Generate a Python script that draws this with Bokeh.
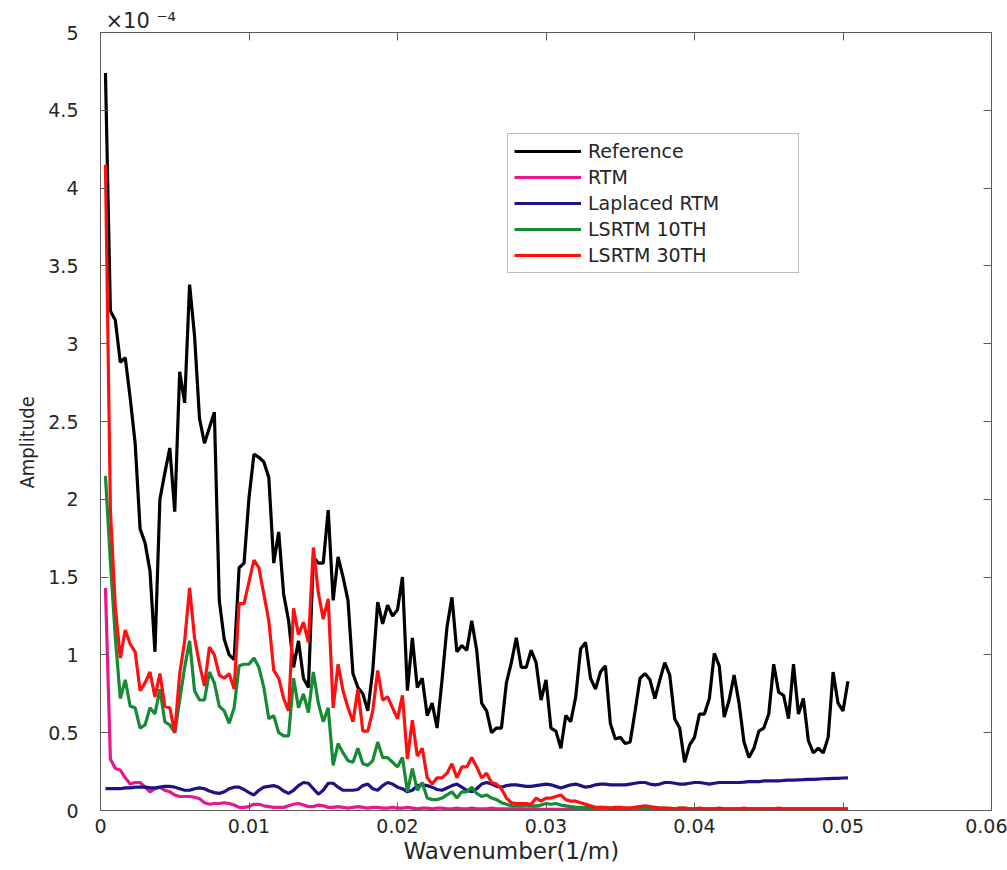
from bokeh.plotting import figure
from bokeh.models import FixedTicker, LinearAxis, Range1d, Title
from bokeh.embed import file_html
from bokeh.resources import INLINE

# ---- data (amplitudes in units of 1e-4) ----
STEP = 1.0 / 3000.0
wavenumber = [k * STEP for k in range(1, 152)]

reference = [
    4.74, 3.21, 3.15, 2.88, 2.91, 2.65, 2.36, 1.81, 1.72, 1.54,
    1.02, 2.00, 2.17, 2.33, 1.92, 2.82, 2.62, 3.38, 3.05, 2.52,
    2.36, 2.46, 2.56, 1.35, 1.10, 1.00, 0.97, 1.56, 1.59, 2.01,
    2.29, 2.27, 2.24, 2.14, 1.59, 1.79, 1.39, 1.22, 0.92, 1.09,
    0.85, 0.79, 1.63, 1.59, 1.59, 1.93, 1.35, 1.63, 1.50, 1.35,
    0.88, 0.79, 0.75, 0.64, 0.90, 1.34, 1.20, 1.32, 1.25, 1.29,
    1.50, 0.77, 1.11, 0.79, 0.85, 0.61, 0.69, 0.53, 0.84, 1.18,
    1.37, 1.02, 1.06, 1.03, 1.22, 1.03, 0.69, 0.64, 0.50, 0.53,
    0.53, 0.82, 0.95, 1.11, 0.92, 0.92, 1.03, 0.95, 0.71, 0.84,
    0.53, 0.51, 0.40, 0.61, 0.57, 0.73, 1.04, 1.08, 0.85, 0.78,
    0.89, 0.93, 0.56, 0.46, 0.47, 0.43, 0.44, 0.64, 0.85, 0.88,
    0.84, 0.72, 0.84, 0.95, 0.87, 0.59, 0.53, 0.31, 0.42, 0.47,
    0.62, 0.62, 0.72, 1.01, 0.93, 0.60, 0.71, 0.87, 0.69, 0.44,
    0.34, 0.40, 0.51, 0.53, 0.62, 0.94, 0.76, 0.74, 0.59, 0.94,
    0.62, 0.72, 0.45, 0.37, 0.40, 0.37, 0.47, 0.89, 0.69, 0.64,
    0.83,
]

rtm = [
    1.43, 0.33, 0.27, 0.26, 0.21, 0.17, 0.18, 0.18, 0.15, 0.12,
    0.14, 0.15, 0.13, 0.12, 0.10, 0.09, 0.09, 0.09, 0.085, 0.075,
    0.05, 0.04, 0.045, 0.045, 0.05, 0.045, 0.035, 0.02, 0.02, 0.025,
    0.04, 0.04, 0.03, 0.025, 0.02, 0.02, 0.02, 0.03, 0.04, 0.045,
    0.035, 0.025, 0.025, 0.035, 0.03, 0.02, 0.02, 0.025, 0.02, 0.015,
    0.02, 0.025, 0.02, 0.015, 0.02, 0.02, 0.015, 0.015, 0.02, 0.015,
    0.015, 0.02, 0.015, 0.01, 0.015, 0.015, 0.01, 0.015, 0.015, 0.01,
    0.01, 0.015, 0.01, 0.01, 0.015, 0.01, 0.01, 0.01, 0.015, 0.01,
    0.01, 0.01, 0.01, 0.01, 0.01, 0.01, 0.01, 0.01, 0.008, 0.008,
    0.008, 0.008, 0.008, 0.008, 0.008, 0.008, 0.008, 0.008, 0.008, 0.008,
    0.007, 0.007, 0.007, 0.007, 0.007, 0.007, 0.007, 0.007, 0.007, 0.007,
    0.006, 0.006, 0.006, 0.006, 0.006, 0.006, 0.006, 0.006, 0.006, 0.006,
    0.006, 0.006, 0.006, 0.006, 0.006, 0.006, 0.006, 0.006, 0.006, 0.006,
    0.005, 0.005, 0.005, 0.005, 0.005, 0.005, 0.005, 0.005, 0.005, 0.005,
    0.005, 0.005, 0.005, 0.005, 0.005, 0.005, 0.005, 0.005, 0.005, 0.005,
    0.005,
]

laplaced_rtm = [
    0.14, 0.14, 0.14, 0.14, 0.145, 0.145, 0.15, 0.15, 0.15, 0.145,
    0.145, 0.15, 0.155, 0.155, 0.15, 0.14, 0.13, 0.13, 0.14, 0.145,
    0.14, 0.125, 0.115, 0.11, 0.12, 0.14, 0.15, 0.15, 0.135, 0.115,
    0.10, 0.13, 0.15, 0.155, 0.16, 0.15, 0.125, 0.11, 0.13, 0.16,
    0.18, 0.175, 0.14, 0.105, 0.13, 0.175, 0.175, 0.15, 0.13, 0.13,
    0.13, 0.135, 0.16, 0.17, 0.14, 0.13, 0.16, 0.18, 0.17, 0.15,
    0.14, 0.12, 0.13, 0.16, 0.165, 0.16, 0.15, 0.135, 0.13, 0.145,
    0.16, 0.17, 0.15, 0.13, 0.12, 0.14, 0.17, 0.18, 0.17, 0.155,
    0.15, 0.16, 0.165, 0.165, 0.16, 0.155, 0.155, 0.16, 0.165, 0.17,
    0.165, 0.155, 0.145, 0.155, 0.165, 0.17, 0.16, 0.15, 0.155, 0.165,
    0.17, 0.17, 0.165, 0.165, 0.165, 0.165, 0.17, 0.175, 0.18, 0.18,
    0.17, 0.165, 0.17, 0.18, 0.18, 0.175, 0.17, 0.17, 0.175, 0.18,
    0.18, 0.175, 0.17, 0.175, 0.18, 0.18, 0.18, 0.18, 0.18, 0.182,
    0.185, 0.185, 0.185, 0.19, 0.19, 0.19, 0.19, 0.193, 0.195, 0.195,
    0.197, 0.198, 0.20, 0.20, 0.202, 0.204, 0.205, 0.206, 0.207, 0.209,
    0.21,
]

lsrtm_10 = [
    2.15, 1.60, 1.11, 0.72, 0.84, 0.67, 0.66, 0.53, 0.55, 0.66,
    0.62, 0.78, 0.57, 0.55, 0.50, 0.71, 0.92, 1.09, 0.77, 0.71,
    0.71, 0.89, 0.82, 0.67, 0.64, 0.56, 0.66, 0.93, 0.94, 0.94,
    0.98, 0.92, 0.79, 0.59, 0.61, 0.50, 0.48, 0.48, 0.85, 0.66,
    0.75, 0.63, 0.89, 0.69, 0.57, 0.66, 0.29, 0.43, 0.37, 0.32,
    0.31, 0.40, 0.30, 0.29, 0.32, 0.44, 0.34, 0.34, 0.31, 0.28,
    0.34, 0.12, 0.27, 0.13, 0.18, 0.08, 0.07, 0.07, 0.08, 0.10,
    0.12, 0.08, 0.12, 0.12, 0.15, 0.11, 0.09, 0.10, 0.08, 0.07,
    0.05, 0.04, 0.03, 0.03, 0.03, 0.035, 0.03, 0.03, 0.035, 0.045,
    0.04, 0.045, 0.035, 0.03, 0.025, 0.02, 0.02, 0.02, 0.015, 0.015,
    0.02, 0.015, 0.015, 0.015, 0.015, 0.015, 0.015, 0.02, 0.02, 0.02,
    0.015, 0.015, 0.015, 0.015, 0.01, 0.01, 0.015, 0.015, 0.01, 0.01,
    0.01, 0.01, 0.01, 0.01, 0.01, 0.01, 0.01, 0.01, 0.01, 0.01,
    0.01, 0.01, 0.01, 0.01, 0.01, 0.01, 0.01, 0.01, 0.01, 0.01,
    0.01, 0.01, 0.01, 0.01, 0.01, 0.01, 0.01, 0.01, 0.01, 0.01,
    0.01,
]

lsrtm_30 = [
    4.15, 1.93, 1.30, 0.98, 1.16, 1.07, 1.02, 0.77, 0.82, 0.89,
    0.73, 0.88, 0.67, 0.66, 0.50, 0.88, 1.09, 1.43, 1.11, 0.94,
    0.80, 1.05, 1.00, 0.87, 0.85, 0.88, 0.78, 1.33, 1.33, 1.47,
    1.61, 1.56, 1.39, 1.22, 0.90, 0.85, 0.72, 0.64, 1.30, 1.13,
    1.21, 1.08, 1.69, 1.40, 1.23, 1.36, 0.66, 0.94, 0.77, 0.66,
    0.57, 0.78, 0.51, 0.51, 0.64, 0.90, 0.71, 0.73, 0.66, 0.59,
    0.74, 0.33, 0.58, 0.35, 0.40, 0.21, 0.17, 0.21, 0.21, 0.24,
    0.30, 0.21, 0.28, 0.28, 0.34, 0.28, 0.21, 0.24, 0.18, 0.17,
    0.14, 0.08, 0.05, 0.045, 0.045, 0.045, 0.04, 0.08, 0.06, 0.08,
    0.08, 0.09, 0.10, 0.07, 0.06, 0.06, 0.05, 0.04, 0.03, 0.02,
    0.02, 0.02, 0.015, 0.02, 0.02, 0.015, 0.015, 0.02, 0.025, 0.03,
    0.025, 0.02, 0.015, 0.015, 0.015, 0.01, 0.015, 0.015, 0.01, 0.01,
    0.015, 0.01, 0.01, 0.01, 0.015, 0.01, 0.01, 0.01, 0.01, 0.015,
    0.01, 0.01, 0.01, 0.01, 0.01, 0.01, 0.015, 0.01, 0.01, 0.01,
    0.01, 0.01, 0.01, 0.01, 0.01, 0.01, 0.01, 0.01, 0.01, 0.01,
    0.01,
]

series_names = ["Reference", "RTM", "Laplaced RTM", "LSRTM 10TH", "LSRTM 30TH"]
series_values = [reference, rtm, laplaced_rtm, lsrtm_10, lsrtm_30]
series_colors = ["#000000", "#e8188c", "#1c1484", "#168a34", "#ff1010"]

x_ticks = [0, 0.01, 0.02, 0.03, 0.04, 0.05, 0.06]
x_tick_labels = ["0", "0.01", "0.02", "0.03", "0.04", "0.05", "0.06"]
y_ticks = [0, 0.5, 1, 1.5, 2, 2.5, 3, 3.5, 4, 4.5, 5]
y_tick_labels = ["0", "0.5", "1", "1.5", "2", "2.5", "3", "3.5", "4", "4.5", "5"]
x_label = "Wavenumber(1/m)"
y_label = "Amplitude"
exponent_label = "\u00d710 \u207b\u2074"

FONT = "DejaVu Sans"
NARROW = "'Liberation Sans Narrow', 'DejaVu Sans Condensed', 'DejaVu Sans'"
AX_COLOR = "#5a5a5a"
TXT_COLOR = "#262626"

p = figure(width=1007, height=870, title=None,
           x_range=Range1d(0, 0.06), y_range=Range1d(0, 5),
           output_backend="svg", toolbar_location=None,
           min_border_left=100, min_border_right=16,
           min_border_top=32, min_border_bottom=60)
p.xgrid.visible = False
p.ygrid.visible = False
p.outline_line_color = None
p.background_fill_color = "white"
p.border_fill_color = "white"

for name, vals, col in zip(series_names, series_values, series_colors):
    p.line(wavenumber, vals, line_color=col, line_width=3.2, legend_label=name)

def style_axis(ax, show_labels):
    ax.axis_line_color = AX_COLOR
    ax.axis_line_width = 1
    ax.major_tick_line_color = AX_COLOR
    ax.major_tick_in = 8
    ax.major_tick_out = 0
    ax.minor_tick_line_color = None
    ax.major_label_text_font = FONT
    if show_labels:
        ax.major_label_text_color = TXT_COLOR
        ax.major_label_text_font_size = "19px"
    else:
        ax.major_label_text_color = None
        ax.major_label_text_font_size = "0px"

xb = p.xaxis[0]
xb.ticker = FixedTicker(ticks=x_ticks)
xb.major_label_overrides = {t: s for t, s in zip(x_ticks, x_tick_labels)}
style_axis(xb, True)
xb.major_label_standoff = 8

yl = p.yaxis[0]
yl.ticker = FixedTicker(ticks=y_ticks)
yl.major_label_overrides = {t: s for t, s in zip(y_ticks, y_tick_labels)}
style_axis(yl, True)
yl.major_label_standoff = 22

xt = LinearAxis(ticker=FixedTicker(ticks=x_ticks))
style_axis(xt, False)
xt.major_label_standoff = 0
p.add_layout(xt, "above")

yr = LinearAxis(ticker=FixedTicker(ticks=y_ticks))
style_axis(yr, False)
yr.major_label_standoff = 0
p.add_layout(yr, "right")

# axis titles and exponent marker as titles placed like the original
p.add_layout(Title(text=x_label, align="left", offset=303, standoff=0,
                   text_font=FONT, text_font_size="23px", text_font_style="normal",
                   text_color=TXT_COLOR), "below")
p.add_layout(Title(text=y_label, align="left", offset=322, standoff=14,
                   text_font=NARROW, text_font_size="20px", text_font_style="normal",
                   text_color=TXT_COLOR), "left")
p.add_layout(Title(text=exponent_label, align="left", offset=5, standoff=0,
                   text_font=FONT, text_font_size="21px", text_font_style="normal",
                   text_color=TXT_COLOR), "above")

lg = p.legend[0]
lg.location = (407, 537)
lg.label_text_font = FONT
lg.label_text_font_size = "19px"
lg.label_text_color = TXT_COLOR
lg.glyph_width = 67
lg.glyph_height = 20
lg.label_height = 20
lg.label_width = 204
lg.label_standoff = 7
lg.spacing = 4
lg.padding = 6
lg.margin = 0
lg.border_line_color = "#7a7a7a"
lg.border_line_width = 1
lg.background_fill_alpha = 1.0

open("out.html", "w").write(file_html(p, INLINE))
